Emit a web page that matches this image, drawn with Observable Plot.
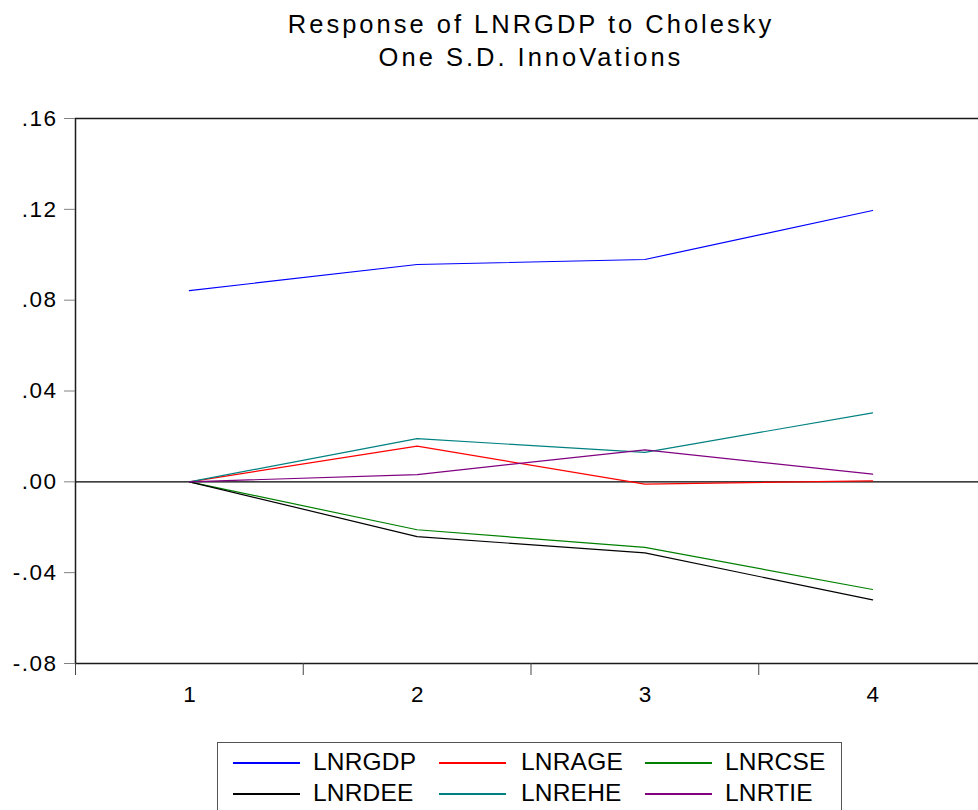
<!DOCTYPE html>
<html>
<head>
<meta charset="utf-8">
<script src="https://cdn.jsdelivr.net/npm/d3@7"></script>
<script src="https://cdn.jsdelivr.net/npm/@observablehq/plot@0.6"></script>
<style>
  html, body { margin: 0; padding: 0; background: #fff; overflow: hidden; }
  body { position: relative; width: 978px; height: 810px; font-family: "Liberation Sans", Arial, sans-serif; }
  #chart { position: absolute; left: 0; top: 0; }
  #chart svg text { font-size: 22.5px; fill: #000; }
  #chart svg .yt text { letter-spacing: 1.5px; }
  #title { position: absolute; left: 0; top: 8px; width: 1062px; text-align: center; font-size: 25.5px; line-height: 33px; letter-spacing: 3px; color: #000; }
  #legend { position: absolute; left: 217px; top: 742px; width: 625px; height: 90px; border: 1px solid #555; box-sizing: border-box; }
  .lg-line { position: absolute; height: 1.5px; width: 67px; }
  .lg-text { position: absolute; font-size: 24.5px; line-height: 24px; color: #000; letter-spacing: 0.2px; }
</style>
</head>
<body>
<div id="chart"></div>
<div id="title">Response of LNRGDP to Cholesky<br>One S.D. InnoVations</div>
<div id="legend"></div>
<script>
// ---- data ----
const periods = [1, 2, 3, 4];
const seriesNames = ["LNRGDP", "LNRAGE", "LNRCSE", "LNRDEE", "LNREHE", "LNRTIE"];
const seriesColors = ["#0000ff", "#ff0000", "#008000", "#000000", "#008080", "#800080"];
const LNRGDP = [0.0842, 0.0957, 0.0979, 0.1195];
const LNRAGE = [0.0000, 0.0157, -0.0010, 0.0004];
const LNRCSE = [0.0000, -0.0211, -0.0289, -0.0474];
const LNRDEE = [0.0000, -0.0241, -0.0313, -0.0520];
const LNREHE = [0.0000, 0.0190, 0.0130, 0.0304];
const LNRTIE = [0.0000, 0.0032, 0.0141, 0.0034];
const yTicks = [-0.08, -0.04, 0.00, 0.04, 0.08, 0.12, 0.16];
const xBoundaries = [0.5, 1.5, 2.5, 3.5, 4.5];

const seriesValues = { LNRGDP, LNRAGE, LNRCSE, LNRDEE, LNREHE, LNRTIE };
const data = seriesNames.flatMap(name =>
  periods.map((p, j) => ({ period: p, value: seriesValues[name][j], series: name }))
);

const fmt = d => d.toFixed(2).replace("0.", ".");

const chart = Plot.plot({
  width: 978,
  height: 810,
  marginTop: 118,
  marginBottom: 147,
  marginLeft: 75,
  marginRight: -8,
  x: { domain: [0.5, 4.5], label: null },
  y: { domain: [-0.08, 0.16], label: null },
  color: { domain: seriesNames, range: seriesColors },
  style: { fontFamily: "'Liberation Sans', Arial, sans-serif", background: "white", color: "#000", fontSize: "22px" },
  marks: [
    Plot.ruleY([0], { stroke: "#000", strokeWidth: 1.2 }),
    Plot.line(data, { x: "period", y: "value", stroke: "series", strokeWidth: 1.2 }),
    Plot.frame({ stroke: "#1a1a1a", strokeWidth: 1.5 }),
    Plot.axisY(yTicks, { tickFormat: fmt, tickSize: 11, tickPadding: 7, fontSize: 22, stroke: "#808080", strokeOpacity: 1, className: "yt" }),
    Plot.axisX(xBoundaries, { tickSize: 12, tickFormat: () => "", stroke: "#444", strokeOpacity: 1 }),
    Plot.axisX(periods, { tickSize: 0, tickPadding: 23, fontSize: 22, tickFormat: d => String(d) })
  ]
});
document.getElementById("chart").appendChild(chart);

// ---- legend ----
const legend = document.getElementById("legend");
const colLine = [233, 439, 645];
const colText = [313, 521, 725];
const rowY = [762, 793];
seriesNames.forEach((name, i) => {
  const r = Math.floor(i / 3), c = i % 3;
  const ln = document.createElement("div");
  ln.className = "lg-line";
  ln.style.left = (colLine[c] - 218) + "px";
  ln.style.top = (rowY[r] - 743) + "px";
  ln.style.background = seriesColors[i];
  legend.appendChild(ln);
  const tx = document.createElement("div");
  tx.className = "lg-text";
  tx.textContent = name;
  tx.style.left = (colText[c] - 218) + "px";
  tx.style.top = (rowY[r] - 743 - 12) + "px";
  legend.appendChild(tx);
});
</script>
</body>
</html>
